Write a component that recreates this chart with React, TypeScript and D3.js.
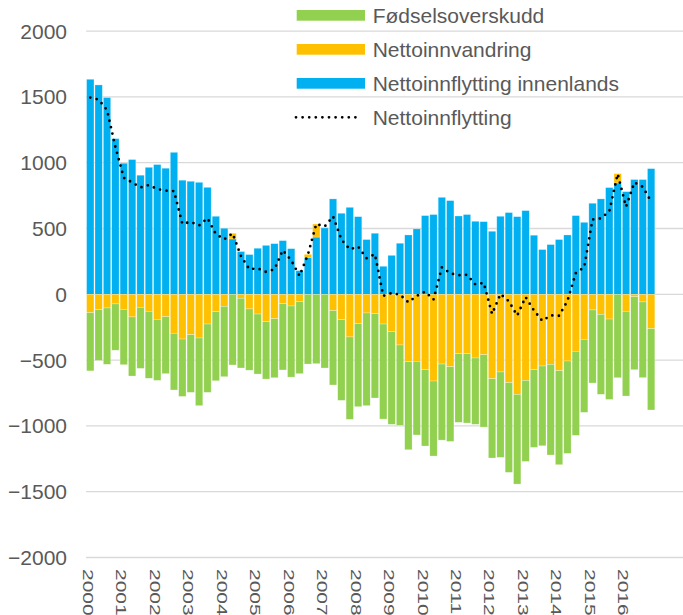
import React from "react";
import * as d3 from "d3";

const years = ["2000","2001","2002","2003","2004","2005","2006","2007","2008","2009","2010","2011","2012","2013","2014","2015","2016"];
const quarters = ["K1","K2","K3","K4"];

// Nettoinnflytting innenlands (blue)
const innenlands = [1634,1591,1495,1183,996,1024,905,965,986,958,1079,867,859,851,813,593,502,421,325,302,350,372,385,408,347,180,281,435,505,725,616,661,590,416,464,213,296,388,451,497,598,606,737,712,595,606,555,552,479,593,621,590,636,449,340,378,416,451,598,547,692,725,811,846,780,872,872,955];
// Nettoinnvandring (orange)
const innvandring = [-139,-117,-104,-73,-114,-172,-99,-129,-190,-170,-296,-340,-307,-332,-226,-132,-91,43,-30,-111,-150,-208,-185,-71,-89,-56,23,99,5,-124,-193,-324,-223,-142,-147,-226,-284,-385,-512,-509,-573,-659,-530,-550,-451,-451,-484,-459,-641,-590,-671,-760,-654,-573,-545,-532,-580,-507,-433,-342,-119,-152,-188,71,-129,-18,-58,-261];
// Fødselsoverskudd (green)
const fodsel = [-443,-385,-428,-352,-421,-449,-464,-509,-464,-433,-431,-436,-438,-514,-519,-525,-535,-537,-530,-466,-456,-436,-449,-504,-540,-547,-530,-527,-560,-565,-613,-626,-631,-704,-641,-722,-704,-611,-669,-560,-580,-570,-578,-568,-522,-527,-504,-550,-603,-649,-682,-682,-616,-590,-606,-689,-715,-702,-639,-555,-555,-608,-611,-634,-644,-555,-575,-618];
// Nettoinnflytting (dotted line)
const netto = [1495,1480,1400,1120,885,850,812,830,800,788,784,535,550,523,578,458,418,463,290,190,197,170,190,335,258,140,302,535,515,592,416,342,362,274,305,-12,10,-3,-61,-12,20,-40,205,160,145,148,75,87,-150,2,-53,-162,-21,-123,-202,-160,-163,-50,161,206,568,577,630,915,665,850,816,705];

const yTicks = [-2000,-1500,-1000,-500,0,500,1000,1500,2000];

const seriesKeys = ["innenlands","innvandring","fodsel"];
const seriesColors: Record<string,string> = { innenlands: "#00B0F0", innvandring: "#FFC000", fodsel: "#92D050" };
const legendItems = [
  { label: "Fødselsoverskudd", color: "#92D050", type: "bar" },
  { label: "Nettoinnvandring", color: "#FFC000", type: "bar" },
  { label: "Nettoinnflytting innenlands", color: "#00B0F0", type: "bar" },
  { label: "Nettoinnflytting", color: "#000000", type: "line" },
];

const W = 683, H = 615;
const FONT = "'Liberation Sans', Arial, Helvetica, sans-serif";
const TXT = "#595959";
const fmtTick = (t: number) => (t < 0 ? "\u2212" + Math.abs(t) : String(t));

export default function App() {
  const cats: string[] = [];
  years.forEach(y => quarters.forEach(q => cats.push(y + q)));
  const n = innenlands.length;
  const categories = cats.slice(0, n);

  const table = categories.map((c, i) => ({
    cat: c,
    innenlands: innenlands[i],
    innvandring: innvandring[i],
    fodsel: fodsel[i],
  }));

  const x = d3.scaleBand<string>().domain(categories).range([86.1, 86.1 + 8.371 * n]).paddingInner(0.12).paddingOuter(0.06);
  const y = d3.scaleLinear().domain([-2000, 2000]).range([557.5, 31.1]);

  const stack = d3.stack<any>().keys(seriesKeys).offset(d3.stackOffsetDiverging);
  const stacked = stack(table);

  const line = d3.line<number>()
    .x((_, i) => (x(categories[i]) as number) + x.bandwidth() / 2)
    .y(d => y(d));

  return (
    <svg width={W} height={H} style={{ position: "absolute", left: 0, top: 0, display: "block", background: "#fff" }} fontFamily={FONT}>
      {yTicks.map(t => (
        <line key={t} x1={86.1} x2={W} y1={y(t)} y2={y(t)} stroke="#D9D9D9" strokeWidth={1.3} />
      ))}
      {yTicks.map(t => (
        <text key={"l" + t} x={67} y={y(t) + 7.5} textAnchor="end" fontSize={21} fill={TXT}>{fmtTick(t)}</text>
      ))}
      {stacked.map(s => (
        <g key={s.key} fill={seriesColors[s.key]}>
          {s.map((d, i) => {
            const y0 = y(d[0]), y1 = y(d[1]);
            const top = Math.min(y0, y1), h = Math.abs(y1 - y0);
            if (h < 0.01) return null;
            return <rect key={i} x={x(categories[i])} y={top} width={x.bandwidth()} height={h} stroke="#ffffff" strokeOpacity={0.45} strokeWidth={0.6} />;
          })}
        </g>
      ))}
      <path d={line(netto) || ""} fill="none" stroke="#000" strokeWidth={2.8} strokeDasharray="0 6.6" strokeLinecap="round" />
      {categories.map((c, i) => i % 4 === 0 ? (
        <text key={"x" + c} transform={`translate(${(x(c) as number) + x.bandwidth() / 2 - 7.6},569) rotate(90) scale(1,0.71)`} fontSize={21} fill={TXT}>{years[i / 4]}</text>
      ) : null)}
      {legendItems.map((it, k) => {
        const cy = 15.3 + k * 34;
        return (
          <g key={it.label}>
            {it.type === "bar" ? (
              <rect x={296.7} y={cy - 5.3} width={68.3} height={10.7} fill={it.color} />
            ) : (
              <line x1={296} x2={360} y1={cy} y2={cy} stroke="#000" strokeWidth={2.8} strokeDasharray="0 6.6" strokeLinecap="round" />
            )}
            <text x={372.7} y={cy + 7.5} fontSize={21} fill={TXT}>{it.label}</text>
          </g>
        );
      })}
    </svg>
  );
}
